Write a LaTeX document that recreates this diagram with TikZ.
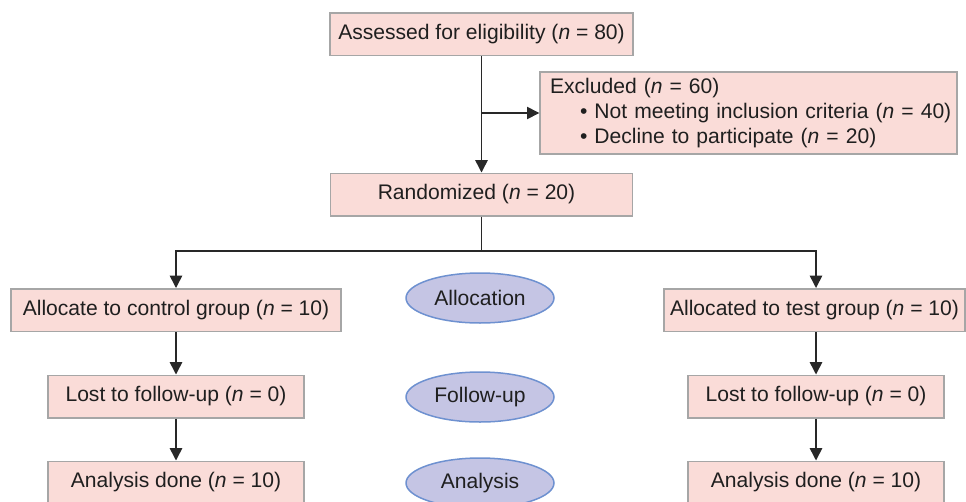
\documentclass[tikz,border=0pt]{standalone}
\usepackage{fontspec}
\setmainfont{Liberation Sans}
\definecolor{PINK_Color}{RGB}{250, 220, 216}
\definecolor{LILAC_Color}{RGB}{197, 197, 228}
\definecolor{RIM_Color}{RGB}{110, 145, 208}
\definecolor{LINE_Color}{RGB}{40, 40, 40}
\usetikzlibrary{shapes.geometric, arrows.meta, calc}
\tikzset{
    flow node/.style={rectangle,draw=gray!70,fill=PINK_Color,line width=.3mm,inner sep=0,minimum height=.85cm}, % pink boxes
    phase node/.style={ellipse,draw=RIM_Color,fill=LILAC_Color,line width=.3mm,inner sep=0,minimum width=2.96cm,minimum height=1cm}, % stage labels
    flow arrow/.style={draw=LINE_Color,line width=.3mm,-{Triangle[width=7pt,length=7pt]}},
    flow line/.style={draw=LINE_Color,line width=.3mm},
    }

\begin{document}
\begin{tikzpicture}
    [x=0.02cm, y=-0.02cm, font=\fontsize{12}{14}\selectfont, text=black!88
    ]
\useasboundingbox (0,0) rectangle (966,501);

\node[flow node,minimum width=6.06cm] (v1) at (481.5,34) {Assessed for eligibility (\textit{n} = 80)};
\node[flow node,minimum width=8.34cm,minimum height=1.64cm,text width=8.34cm,align=left] (v2) at (748.5,113)
    {\hspace*{0.2cm}Excluded (\textit{n} = 60)\\
     \hspace*{0.8cm}\textbullet\ Not meeting inclusion criteria (\textit{n} = 40)\\
     \hspace*{0.8cm}\textbullet\ Decline to participate (\textit{n} = 20)};
\node[flow node,minimum width=6.04cm] (v3) at (481.5,194.5) {Randomized (\textit{n} = 20)\hspace*{0.2cm}};

\node[flow node,minimum width=6.6cm] (v4) at (176,310) {Allocate to control group (\textit{n} = 10)};
\node[flow node,minimum width=6.02cm] (v5) at (814.5,310) {Allocated to test group (\textit{n} = 10)};
\node[flow node,minimum width=5.12cm] (v6) at (176,396.5) {Lost to follow-up (\textit{n} = 0)};
\node[flow node,minimum width=5.12cm] (v7) at (816,396.5) {Lost to follow-up (\textit{n} = 0)};
\node[flow node,minimum width=5.12cm] (v8) at (176,482.5) {Analysis done (\textit{n} = 10)};
\node[flow node,minimum width=5.12cm] (v9) at (816,482.5) {Analysis done (\textit{n} = 10)};

\node[phase node] (v10) at (480,298) {Allocation};
\node[phase node] (v11) at (480,397) {Follow-up};
\node[phase node] (v12) at (480,483) {Analysis};

\coordinate (v13) at (481.5,251);

\draw[flow arrow] (v1) -- (v3);
\draw[flow arrow] (v1.south |- v2.west) -- (v2.west);
\draw[flow line] (v3) -- (v13);
\draw[flow arrow] (v13) -| (v4.north);
\draw[flow arrow] (v13) -| (v7.north |- v5.north);
\draw[flow arrow] (v4) -- (v6);
\draw[flow arrow] (v6) -- (v8);
\draw[flow arrow] (v7) -- (v9);
\draw[flow arrow] (v5.south -| v7.north) -- (v7);
\end{tikzpicture}
\end{document}
